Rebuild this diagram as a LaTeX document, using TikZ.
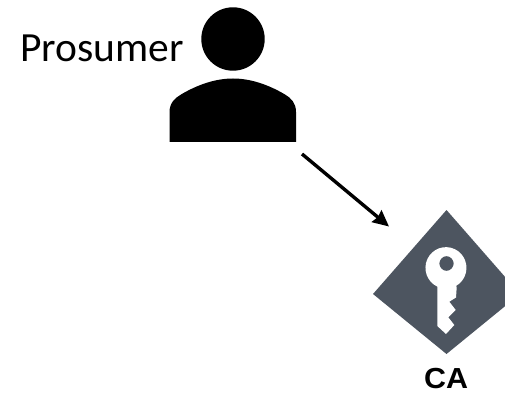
\documentclass[tikz,border=0pt]{standalone}
\usepackage{fontspec}
\setmainfont{Carlito}
\newfontfamily\casans{Liberation Sans}
\usetikzlibrary{arrows.meta}
\definecolor{cagray}{HTML}{4D5560}
\tikzset{
  fig/.style={x=1pt,y=-1pt},
  label/.style={inner sep=0pt,anchor=base},
  flow/.style={line width=3.4pt,-{Stealth[length=16pt,width=15pt,inset=1.5pt]}}
}
\begin{document}
\begin{tikzpicture}[fig]
\useasboundingbox (0,0) rectangle (505,395);
\clip (0,0) rectangle (505,395);
% person
\fill[black] (233,39) circle[radius=31.7];
\fill[black] (169.5,142) -- (169.5,112) .. controls (169.5,103) and (175,98) .. (181,94.5)
  .. controls (197,85) and (215,78.5) .. (233,78.5)
  .. controls (251,78.5) and (269,85) .. (285,94.5)
  .. controls (291,98) and (296,103) .. (296,112) -- (296,142) -- cycle;
\node[label] (prosumer) at (102,62) {\fontsize{41.5}{41.5}\selectfont Prosumer};
% CA icon
\fill[cagray] (446.5,210) -- (373,294) -- (446.5,354) -- (520,294) -- cycle;
\fill[white,even odd rule]
  (437.3,286.6) arc[start angle=115,end angle=420,x radius=20.5,y radius=20.7]
  -- (456.7,287.5) -- (456,297.5) -- (449.3,301.7) -- (455.7,310) -- (448.3,317.3) -- (454.3,325)
  -- (446,334) -- (437.3,326) -- cycle
  (446.5,263.5) ellipse[x radius=7.2,y radius=7.4];
\node[label,font=\casans\bfseries\fontsize{29}{29}\selectfont,xscale=1.05] (ca) at (446,388) {CA};
% connector
\coordinate (from) at (302,154);
\coordinate (to) at (389,226.5);
\draw[flow] (from) -- (to);
\end{tikzpicture}
\end{document}
